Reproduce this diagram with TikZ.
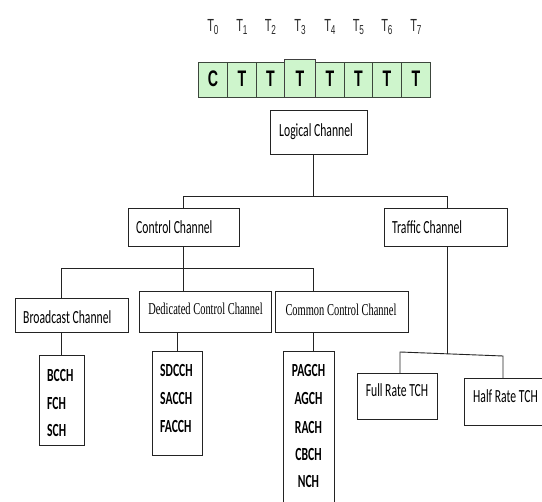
\documentclass[tikz,border=0pt]{standalone}
\usepackage{fontspec}
\usepackage{graphicx}
\setmainfont{Carlito}
\newfontfamily\tnrfont{Liberation Serif}
\newfontfamily\arlfont{Liberation Sans}
\newcommand\sq[1]{\scalebox{0.63}[1]{#1}}
\newcommand\tsub[1]{T\raisebox{-2.5pt}{\fontsize{13}{13}\selectfont #1}}
\definecolor{cellgreen}{RGB}{206,245,204}
\definecolor{cellline}{RGB}{60,70,60}
\definecolor{linegray}{RGB}{35,35,35}
\definecolor{labgray}{RGB}{40,40,40}
\begin{document}
\begin{tikzpicture}[x=1pt,y=-1pt,
  box/.style={draw=linegray, line width=0.9pt, inner sep=0pt, anchor=north west},
  conn/.style={draw=linegray, line width=0.9pt},
  cal/.style={inner sep=0pt, text=black, font=\fontsize{18.5}{22}\selectfont},
  calb/.style={inner sep=0pt, text=black, font=\fontsize{18.5}{22}\selectfont\bfseries},
  tnr/.style={inner sep=0pt, text=black, font=\tnrfont\fontsize{16.6}{20}\selectfont},
  cell/.style={draw=cellline, line width=0.8pt, fill=cellgreen, inner sep=0pt, anchor=north west,
    minimum height=35pt},
  tlab/.style={inner sep=0pt, anchor=base, text=labgray, font=\arlfont\fontsize{17.5}{20}\selectfont}]
\useasboundingbox (0,0) rectangle (542,502);
\clip (0,0) rectangle (542,502);

% slot row
\node[cell, minimum width=29pt] (c0) at (198,62) {};
\node[cell, minimum width=29pt] (c1) at (227,62) {};
\node[cell, minimum width=28pt] (c2) at (256,62) {};
\node[cell, minimum width=29pt] (c4) at (315,62) {};
\node[cell, minimum width=28pt] (c5) at (344,62) {};
\node[cell, minimum width=29pt] (c6) at (372,62) {};
\node[cell, minimum width=29pt] (c7) at (401,62) {};
\node[cell, draw=black!75, line width=1.1pt, minimum width=31pt, minimum height=38pt] (c3) at (284,59) {};
\coordinate (cb) at (0,87);
\foreach \i/\l in {0/C,1/T,2/T,3/T,4/T,5/T,6/T,7/T}{
  \node[inner sep=0pt, anchor=base, font=\arlfont\bfseries\fontsize{22.5}{24}\selectfont] (cl\i) at (c\i.center |- cb) {\sq{\l}};
}
\coordinate (tb) at (0,32);
\foreach \i in {0,...,7}{
  \node[tlab] (t\i) at (c\i.center |- tb) {\sq{\tsub{\i}}};
}

% tree boxes
\node[box, minimum width=97pt, minimum height=44pt] (logical) at (270,110) {};
\node[cal, anchor=base] (logicalT) at (316,137) {\sq{Logical Channel}};

\node[box, minimum width=111pt, minimum height=38pt] (control) at (128,208) {};
\node[cal, anchor=base west] (controlT) at (136,234) {\sq{Control Channel}};

\node[box, minimum width=123pt, minimum height=38pt] (traffic) at (384,208) {};
\node[cal, anchor=base west] (trafficT) at (392,234) {\sq{Traffic Channel}};

\node[box, minimum width=113pt, minimum height=34pt] (broadcast) at (15,298) {};
\node[cal, anchor=base west] (broadcastT) at (23,324) {\sq{Broadcast Channel}};

\node[box, minimum width=132pt, minimum height=41pt] (dedicated) at (139,291) {};
\node[tnr, anchor=base] (dedicatedT) at (205.5,315) {\sq{Dedicated Control Channel}};

\node[box, minimum width=133pt, minimum height=41pt] (common) at (275,291) {};
\node[tnr, anchor=base] (commonT) at (341,316) {\sq{Common Control Channel}};

\node[box, minimum width=45pt, minimum height=90pt] (bcchbox) at (39,355) {};
\node[calb, anchor=base west] (bcch) at (47,382) {\sq{BCCH}};
\node[calb, anchor=base west] (fch) at (47,410) {\sq{FCH}};
\node[calb, anchor=base west] (sch) at (47,437) {\sq{SCH}};

\node[box, minimum width=50pt, minimum height=104pt] (sdcchbox) at (152,351) {};
\node[calb, anchor=base west] (sdcch) at (160,377) {\sq{SDCCH}};
\node[calb, anchor=base west] (sacch) at (160,405) {\sq{SACCH}};
\node[calb, anchor=base west] (facch) at (160,433) {\sq{FACCH}};

\node[box, minimum width=51pt, minimum height=160pt] (pagchbox) at (283,351) {};
\node[calb, anchor=base] (pagch) at (308.5,377) {\sq{PAGCH}};
\node[calb, anchor=base] (agch) at (308.5,405) {\sq{AGCH}};
\node[calb, anchor=base] (rach) at (308.5,434) {\sq{RACH}};
\node[calb, anchor=base] (cbch) at (308.5,461) {\sq{CBCH}};
\node[calb, anchor=base] (nch) at (308.5,488) {\sq{NCH}};

\node[box, minimum width=80pt, minimum height=46pt] (fullrate) at (357,373) {};
\node[cal, anchor=base] (fullrateT) at (397,397) {\sq{Full Rate TCH}};

\node[box, minimum width=90pt, minimum height=47pt] (halfrate) at (464,378) {};
\node[cal, anchor=base west] (halfrateT) at (473,403) {\sq{Half Rate TCH}};

% connectors
\coordinate (ja) at (313,196);
\coordinate (jl) at (183,196);
\coordinate (jr) at (447,196);
\draw[conn] (ja |- logical.south) -- (ja);
\draw[conn] (jl |- control.north) -- (jl) -- (jr) -- (jr |- traffic.north);

\coordinate (kb) at (61,268);
\coordinate (kd) at (183,268);
\coordinate (kc) at (313,268);
\draw[conn] (kd |- control.south) -- (kd |- dedicated.north);
\draw[conn] (kb |- broadcast.north) -- (kb) -- (kc) -- (kc |- common.north);

\coordinate (ks) at (177,340);
\draw[conn] (kb |- broadcast.south) -- (kb |- bcchbox.north);
\draw[conn] (ks |- dedicated.south) -- (ks |- sdcchbox.north);
\draw[conn] (kc |- common.south) -- (kc |- pagchbox.north);

\coordinate (tj) at (447,354);
\coordinate (tl) at (400,352);
\coordinate (tr) at (503,356);
\draw[conn] (jr |- traffic.south) -- (tj);
\draw[conn] (tl |- fullrate.north) -- (tl) -- (tr) -- (tr |- halfrate.north);
\end{tikzpicture}
\end{document}
